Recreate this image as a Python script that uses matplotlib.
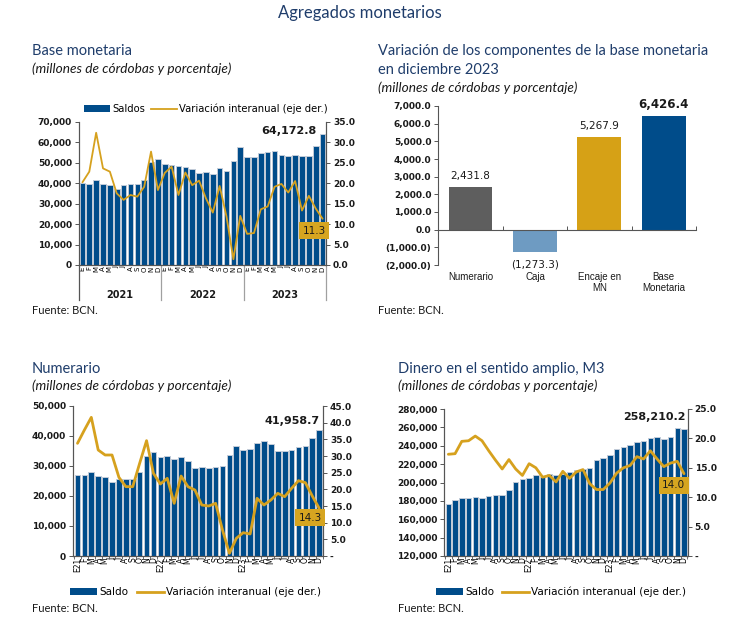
import matplotlib
matplotlib.use("Agg")
import matplotlib.pyplot as plt
from matplotlib.patches import Patch
from matplotlib.lines import Line2D
from matplotlib.ticker import FuncFormatter, MultipleLocator, FixedLocator

W, H = 736, 621

meses = ["E", "F", "M", "A", "M", "J", "J", "A", "S", "O", "N", "D"]
anios = ["2021", "2022", "2023"]
meses_anio = [m + a[2:] if m == "E" else m for a in anios for m in meses]
meses_solo = meses * 3

# Base monetaria (millones de cordobas) y variacion interanual (%)
base_saldos = [40200, 39400, 41300, 39500, 39100, 37300, 39200, 39500, 39700, 41300, 50500, 51800,
               49200, 48700, 48200, 48000, 46900, 44900, 45400, 44600, 47400, 45900, 51000, 57800,
               52800, 52600, 54700, 55200, 55700, 53700, 53300, 53700, 53400, 53200, 58000, 64172.8]
base_var = [20.2, 22.8, 32.3, 23.6, 22.8, 17.5, 15.9, 17.1, 16.7, 19.1, 27.7, 18.3,
            22.5, 24.0, 17.1, 22.6, 19.5, 20.6, 16.3, 12.8, 19.3, 11.8, 1.4, 12.0,
            7.6, 7.8, 13.6, 14.3, 19.1, 19.8, 17.7, 20.5, 13.3, 16.9, 13.8, 11.3]

# Variacion de componentes, diciembre 2023
componentes = ["Numerario", "Caja", "Encaje en\nMN", "Base\nMonetaria"]
comp_valores = [2431.8, -1273.3, 5267.9, 6426.4]
comp_colores = ["#5E5E5E", "#6E9BC2", "#D6A116", "#004C8A"]

# Numerario
num_saldos = [27000, 27100, 27900, 26700, 26200, 24600, 25800, 25600, 25600, 28000, 33300, 34800,
              32900, 33300, 32200, 33100, 31800, 29300, 29700, 29200, 29600, 30000, 33700, 36700,
              35200, 35600, 37600, 38200, 37300, 34900, 35000, 35300, 36300, 36600, 39400, 41958.7]
num_var = [33.8, 37.8, 41.6, 31.8, 30.3, 30.3, 23.6, 20.8, 20.8, 27.8, 34.6, 24.8,
           21.6, 23.3, 15.8, 24.0, 20.8, 19.8, 15.3, 15.0, 15.8, 7.8, 0.8, 5.3,
           7.0, 6.6, 17.3, 15.3, 16.8, 18.8, 17.8, 20.3, 22.6, 22.0, 18.0, 14.3]

# M3
m3_saldos = [176700, 181100, 182900, 183600, 184700, 183300, 185500, 186900, 186500, 192000, 200700, 203600,
             204700, 208400, 205800, 209100, 208000, 209100, 210900, 213800, 214500, 215600, 224000, 226500,
             229500, 236700, 238500, 241100, 243600, 245500, 248000, 249100, 247300, 249800, 259600, 258210.2]
m3_var = [17.3, 17.4, 19.5, 19.6, 20.4, 19.6, 17.9, 16.3, 14.8, 16.4, 14.8, 13.7,
          15.7, 15.0, 13.4, 13.7, 12.6, 14.4, 13.2, 14.3, 14.7, 12.3, 11.3, 11.3,
          12.4, 14.1, 15.0, 15.4, 16.9, 16.5, 17.9, 16.5, 15.2, 15.8, 16.1, 14.0]

AZUL = "#004C8A"
ORO = "#D6A11E"
TITULO = "#1F3D6B"
TXT = "#1A1A1A"
FT = "Lato"
FN = "DejaVu Sans"

fig = plt.figure(figsize=(W / 100, H / 100), dpi=100)
fig.patch.set_facecolor("white")


def eje(x0, y0, x1, y1):
    return fig.add_axes([x0 / W, 1 - y1 / H, (x1 - x0) / W, (y1 - y0) / H])


def texto(x, y, s, **kw):
    fig.text(x / W, 1 - y / H, s, **kw)


def fmt_miles(v, pos):
    return f"{v:,.0f}"


def fmt_uno(v, pos):
    return f"{v:.1f}"


def fmt_guion(v, pos):
    return "-" if abs(v) < 1e-9 else f"{v:.1f}"


def negrita(ax):
    for t in ax.get_yticklabels():
        t.set_fontweight("bold")
        t.set_family(FN)


def panel(ax, saldos, var, ylim, paso, ylim2, paso2, fmt2, lw):
    x = list(range(len(saldos)))
    ax.bar(x, saldos, width=0.82, color=AZUL, edgecolor="#C3CCD8", linewidth=0.7, zorder=2)
    ax.set_ylim(*ylim)
    ax.yaxis.set_major_locator(MultipleLocator(paso))
    ax.yaxis.set_major_formatter(FuncFormatter(fmt_miles))
    ax2 = ax.twinx()
    ax2.plot(x, var, color=ORO, linewidth=lw, solid_joinstyle="round", solid_capstyle="round", zorder=3)
    ax2.set_ylim(*ylim2)
    ax2.yaxis.set_major_locator(MultipleLocator(paso2))
    ax2.yaxis.set_major_formatter(FuncFormatter(fmt2))
    for a in (ax, ax2):
        a.spines["top"].set_visible(False)
        for s in ("left", "right", "bottom"):
            a.spines[s].set_color("#555555")
            a.spines[s].set_linewidth(0.8)
        a.tick_params(axis="y", labelsize=6.5, length=3, width=0.7, colors="#555555", labelcolor=TXT, pad=2)
        negrita(a)
    ax.set_xticks(range(len(saldos)))
    ax.xaxis.set_minor_locator(FixedLocator([i - 0.5 for i in range(len(saldos) + 1)]))
    ax.tick_params(axis="x", which="major", length=0, pad=1)
    ax.tick_params(axis="x", which="minor", length=2.5, width=0.6, colors="#555555")
    return ax2


# ---------- Titulo general ----------
texto(360, 13, "Agregados monetarios", fontsize=12, color=TITULO, family=FT, ha="center", va="center")

# ---------- Panel 1: Base monetaria ----------
texto(32, 51, "Base monetaria", fontsize=10.5, color=TITULO, family=FT, va="center")
texto(32, 69, "(millones de córdobas y porcentaje)", fontsize=9.8, style="italic", color=TXT, family=FT, va="center")
ax1 = eje(79, 121.7, 326, 265)
ax1b = panel(ax1, base_saldos, base_var, (0, 70000), 10000, (0, 35), 5, fmt_uno, 1.3)
ax1.set_xlim(-0.5, 35.5)
ax1.set_xticklabels(meses_solo, rotation=90, fontsize=5, family=FN)
ax1.tick_params(axis="x", which="minor", length=0)
for k in range(4):
    ax1.plot([k * 12 - 0.5] * 2, [0, -0.245], transform=ax1.get_xaxis_transform(), clip_on=False,
             color="#555555" if k == 0 else "#A0A0A0", linewidth=0.9)
for k, a in enumerate(anios):
    ax1.text(k * 12 + 5.5, -0.21, a, transform=ax1.get_xaxis_transform(), ha="center", va="center",
             fontsize=7, fontweight="bold", family=FN, color=TXT)
ax1.annotate(f"{base_saldos[-1]:,.1f}", xy=(34.5, base_saldos[-1]), xytext=(-2, 2), textcoords="offset points",
             ha="right", va="center", fontsize=8, fontweight="bold", family=FN, color=TXT)
ax1b.text(35.45, 8.4, f"{base_var[-1]:.1f}", ha="right", va="center", fontsize=7.5, family=FN, color=TXT,
          bbox=dict(boxstyle="square,pad=0.3", facecolor="#D6A520", edgecolor="none"), zorder=5)
ax1.legend(handles=[Patch(facecolor=AZUL, label="Saldos"),
                    Line2D([], [], color=ORO, linewidth=1.3, label="Variación interanual (eje der.)")],
           loc="center", bbox_to_anchor=(0.515, 1.09), ncol=2, frameon=False,
           handlelength=2.6, handleheight=0.6, handletextpad=0.2, columnspacing=0.6,
           prop={"family": FN, "size": 7.2})
texto(32, 311, "Fuente: BCN.", fontsize=8, family=FT, color=TXT, va="center")

# ---------- Panel 2: Componentes ----------
texto(378, 51, "Variación de los componentes de la base monetaria", fontsize=10.5, color=TITULO, family=FT, va="center")
texto(378, 70, "en diciembre 2023", fontsize=10.5, color=TITULO, family=FT, va="center")
texto(378, 88, "(millones de córdobas y porcentaje)", fontsize=9.8, style="italic", color=TXT, family=FT, va="center")
ax2 = eje(438.3, 106, 696, 265)
xc = list(range(len(componentes)))
ax2.bar(xc, comp_valores, width=0.68, color=comp_colores, zorder=2)
ax2.set_xlim(-0.5, 3.5)
ax2.set_ylim(-2000, 7000)
ax2.yaxis.set_major_locator(MultipleLocator(1000))
ax2.yaxis.set_major_formatter(FuncFormatter(lambda v, p: f"({abs(v):,.1f})" if v < 0 else f"{v:,.1f}"))
for s in ("top", "right"):
    ax2.spines[s].set_visible(False)
ax2.spines["bottom"].set_position(("data", 0))
for s in ("left", "bottom"):
    ax2.spines[s].set_color("#555555")
    ax2.spines[s].set_linewidth(0.8)
ax2.set_xticks([0.5, 1.5, 2.5, 3.5])
ax2.set_xticklabels([])
ax2.tick_params(axis="x", direction="in", length=3, width=0.7, colors="#555555")
ax2.tick_params(axis="y", labelsize=6.5, length=3, width=0.7, colors="#555555", labelcolor=TXT, pad=2)
negrita(ax2)
for i, (n, v) in enumerate(zip(componentes, comp_valores)):
    ax2.annotate(n, xy=(i, 0), xycoords=("data", "axes fraction"), xytext=(0, -5), textcoords="offset points",
                 ha="center", va="top", fontsize=7, family="Liberation Sans", color=TXT, linespacing=1.15)
    etiqueta = f"({abs(v):,.1f})" if v < 0 else f"{v:,.1f}"
    ax2.annotate(etiqueta, xy=(i, v), xytext=(0, 4 if v > 0 else -5), textcoords="offset points",
                 ha="center", va="bottom" if v > 0 else "top", fontsize=7.5 if i < 3 else 8.5,
                 fontweight="bold" if i == 3 else "normal", family=FN, color=TXT)
texto(378, 311, "Fuente: BCN.", fontsize=8, family=FT, color=TXT, va="center")

# ---------- Panel 3: Numerario ----------
texto(32, 369, "Numerario", fontsize=10.5, color=TITULO, family=FT, va="center")
texto(32, 386, "(millones de córdobas y porcentaje)", fontsize=9.8, style="italic", color=TXT, family=FT, va="center")
ax3 = eje(73, 406, 323, 556)
ax3b = panel(ax3, num_saldos, num_var, (0, 50000), 10000, (0, 45), 5, fmt_guion, 2.0)
ax3.set_xlim(-0.65, 35.55)
ax3.set_xticklabels(meses_anio, rotation=90, fontsize=5.5, family=FN)
ax3.annotate(f"{num_saldos[-1]:,.1f}", xy=(35, num_saldos[-1]), xytext=(0, 3), textcoords="offset points",
             ha="right", va="bottom", fontsize=8, fontweight="bold", family=FN, color=TXT)
ax3b.text(35.35, 11.5, f"{num_var[-1]:.1f}", ha="right", va="center", fontsize=7.5, family=FN, color=TXT,
          bbox=dict(boxstyle="square,pad=0.35", facecolor="#D6A520", edgecolor="none"), zorder=5)
ax3.legend(handles=[Patch(facecolor=AZUL, label="Saldo"),
                    Line2D([], [], color=ORO, linewidth=2, label="Variación interanual (eje der.)")],
           loc="center", bbox_to_anchor=(0.49, -0.24), ncol=2, frameon=False,
           handlelength=2.6, handleheight=0.7, handletextpad=0.2, columnspacing=0.8,
           prop={"family": FN, "size": 7.5})
texto(32, 609, "Fuente: BCN.", fontsize=8, family=FT, color=TXT, va="center")

# ---------- Panel 4: M3 ----------
texto(398, 369, "Dinero en el sentido amplio, M3", fontsize=10.5, color=TITULO, family=FT, va="center")
texto(398, 386, "(millones de córdobas y porcentaje)", fontsize=9.8, style="italic", color=TXT, family=FT, va="center")
ax4 = eje(444.3, 409, 687.7, 556)
ax4b = panel(ax4, m3_saldos, m3_var, (120000, 280000), 20000, (0, 25), 5, fmt_guion, 2.0)
ax4.set_xlim(-0.6, 35.55)
ax4.set_xticklabels(meses_anio, rotation=90, fontsize=5.5, family=FN)
ax4.annotate(f"{m3_saldos[-1]:,.1f}", xy=(35.3, m3_saldos[-1]), xytext=(0, 5), textcoords="offset points",
             ha="right", va="bottom", fontsize=8, fontweight="bold", family=FN, color=TXT)
ax4b.text(35.2, 12.0, f"{m3_var[-1]:.1f}", ha="right", va="center", fontsize=7.5, family=FN, color=TXT,
          bbox=dict(boxstyle="square,pad=0.35", facecolor="#D6A520", edgecolor="none"), zorder=5)
ax4.legend(handles=[Patch(facecolor=AZUL, label="Saldo"),
                    Line2D([], [], color=ORO, linewidth=2, label="Variación interanual (eje der.)")],
           loc="center", bbox_to_anchor=(0.48, -0.245), ncol=2, frameon=False,
           handlelength=2.6, handleheight=0.7, handletextpad=0.2, columnspacing=0.8,
           prop={"family": FN, "size": 7.5})
texto(398, 609, "Fuente: BCN.", fontsize=8, family=FT, color=TXT, va="center")

fig.savefig("out.png", dpi=100, facecolor="white")
